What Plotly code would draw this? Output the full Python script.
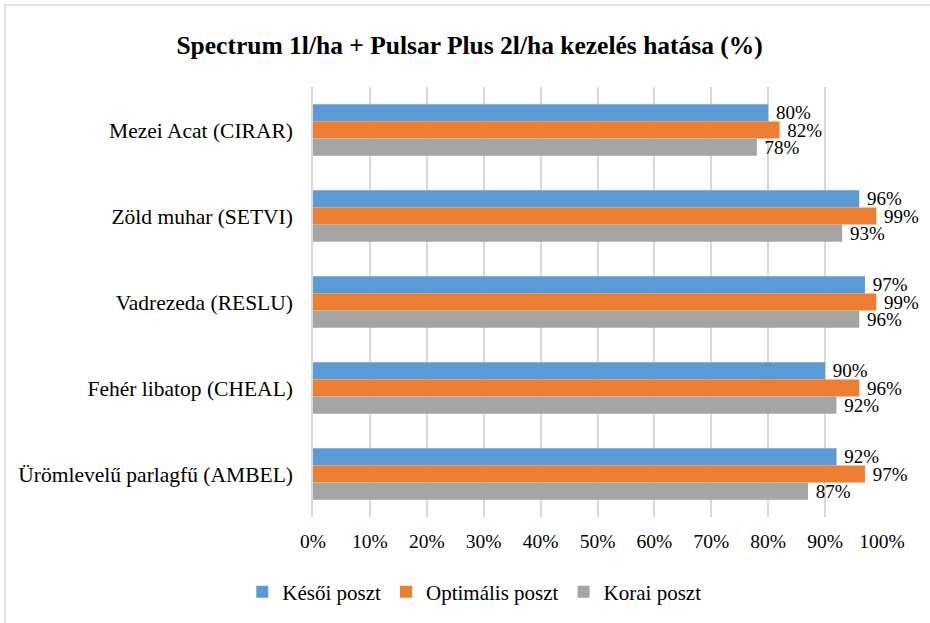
import plotly.graph_objects as go

categories = [
    "Mezei Acat (CIRAR)",
    "Zöld muhar (SETVI)",
    "Vadrezeda (RESLU)",
    "Fehér libatop (CHEAL)",
    "Ürömlevelű parlagfű (AMBEL)",
]
series_names = ["Késői poszt", "Optimális poszt", "Korai poszt"]
kesoi = [80, 96, 97, 90, 92]
optimalis = [82, 99, 99, 96, 97]
korai = [78, 93, 96, 92, 87]
x_ticks = list(range(0, 101, 10))
x_tick_labels = [f"{v}%" for v in x_ticks]
colors = ["#5B9BD5", "#ED7D31", "#A5A5A5"]

FONT = "Liberation Serif, Times New Roman, serif"
W, H = 930, 623
L, R, T, B = 313, 48, 87, 106
pw, ph = W - L - R, H - T - B

fig = go.Figure()
for name, vals, col in zip(series_names, [kesoi, optimalis, korai], colors):
    fig.add_trace(go.Bar(
        y=categories, x=vals, name=name, orientation="h",
        marker=dict(color=col, line=dict(width=0)),
        text=[f"\u00a0{v}%" for v in vals], texttemplate="%{text}", textposition="outside",
        textfont=dict(family=FONT, size=19, color="#000000"),
        constraintext="none", cliponaxis=False, hoverinfo="skip",
    ))

def px_x(p):
    return (p - L) / pw

def px_y(p):
    return (H - B - p) / ph

fig.add_shape(type="rect", xref="paper", yref="paper",
              x0=px_x(5), x1=px_x(940), y0=px_y(640), y1=px_y(5),
              line=dict(color="#D9D9D9", width=1.5), fillcolor="rgba(0,0,0,0)", layer="below")

fig.update_layout(
    width=W, height=H,
    margin=dict(l=L, r=R, t=T, b=B, autoexpand=False),
    paper_bgcolor="white", plot_bgcolor="white",
    barmode="group", bargap=0.4, bargroupgap=0,
    title=dict(text="<b>Spectrum 1l/ha + Pulsar Plus 2l/ha kezelés hatása (%)</b>",
               font=dict(family=FONT, size=25.5, color="#000000"),
               x=0.505, xref="container", xanchor="center",
               y=1 - 45 / H, yref="container", yanchor="middle"),
    font=dict(family=FONT, color="#000000"),
    legend=dict(orientation="h", x=0.51, xref="container", xanchor="center",
                y=1 - 592 / H, yref="container", yanchor="middle",
                font=dict(family=FONT, size=21, color="#000000"),
                itemwidth=30, traceorder="normal"),
    xaxis=dict(range=[0, 100], tickmode="array", tickvals=x_ticks, ticktext=x_tick_labels,
               showgrid=True, gridcolor="#D9D9D9", gridwidth=1.5,
               zeroline=False, showline=False, ticks="", automargin=False,
               tickfont=dict(family=FONT, size=19.5, color="#000000"),
               ticklabelstandoff=10, fixedrange=True),
    yaxis=dict(autorange="reversed", showgrid=False, zeroline=False, automargin=False,
               showline=True, linecolor="#D9D9D9", linewidth=1.5, ticks="",
               tickfont=dict(family=FONT, size=21.5, color="#000000"),
               ticklabelstandoff=14, fixedrange=True),
)

fig.write_html("out.html", config={"displayModeBar": False},
               post_script="document.body.style.margin='0';document.body.style.padding='0';")
